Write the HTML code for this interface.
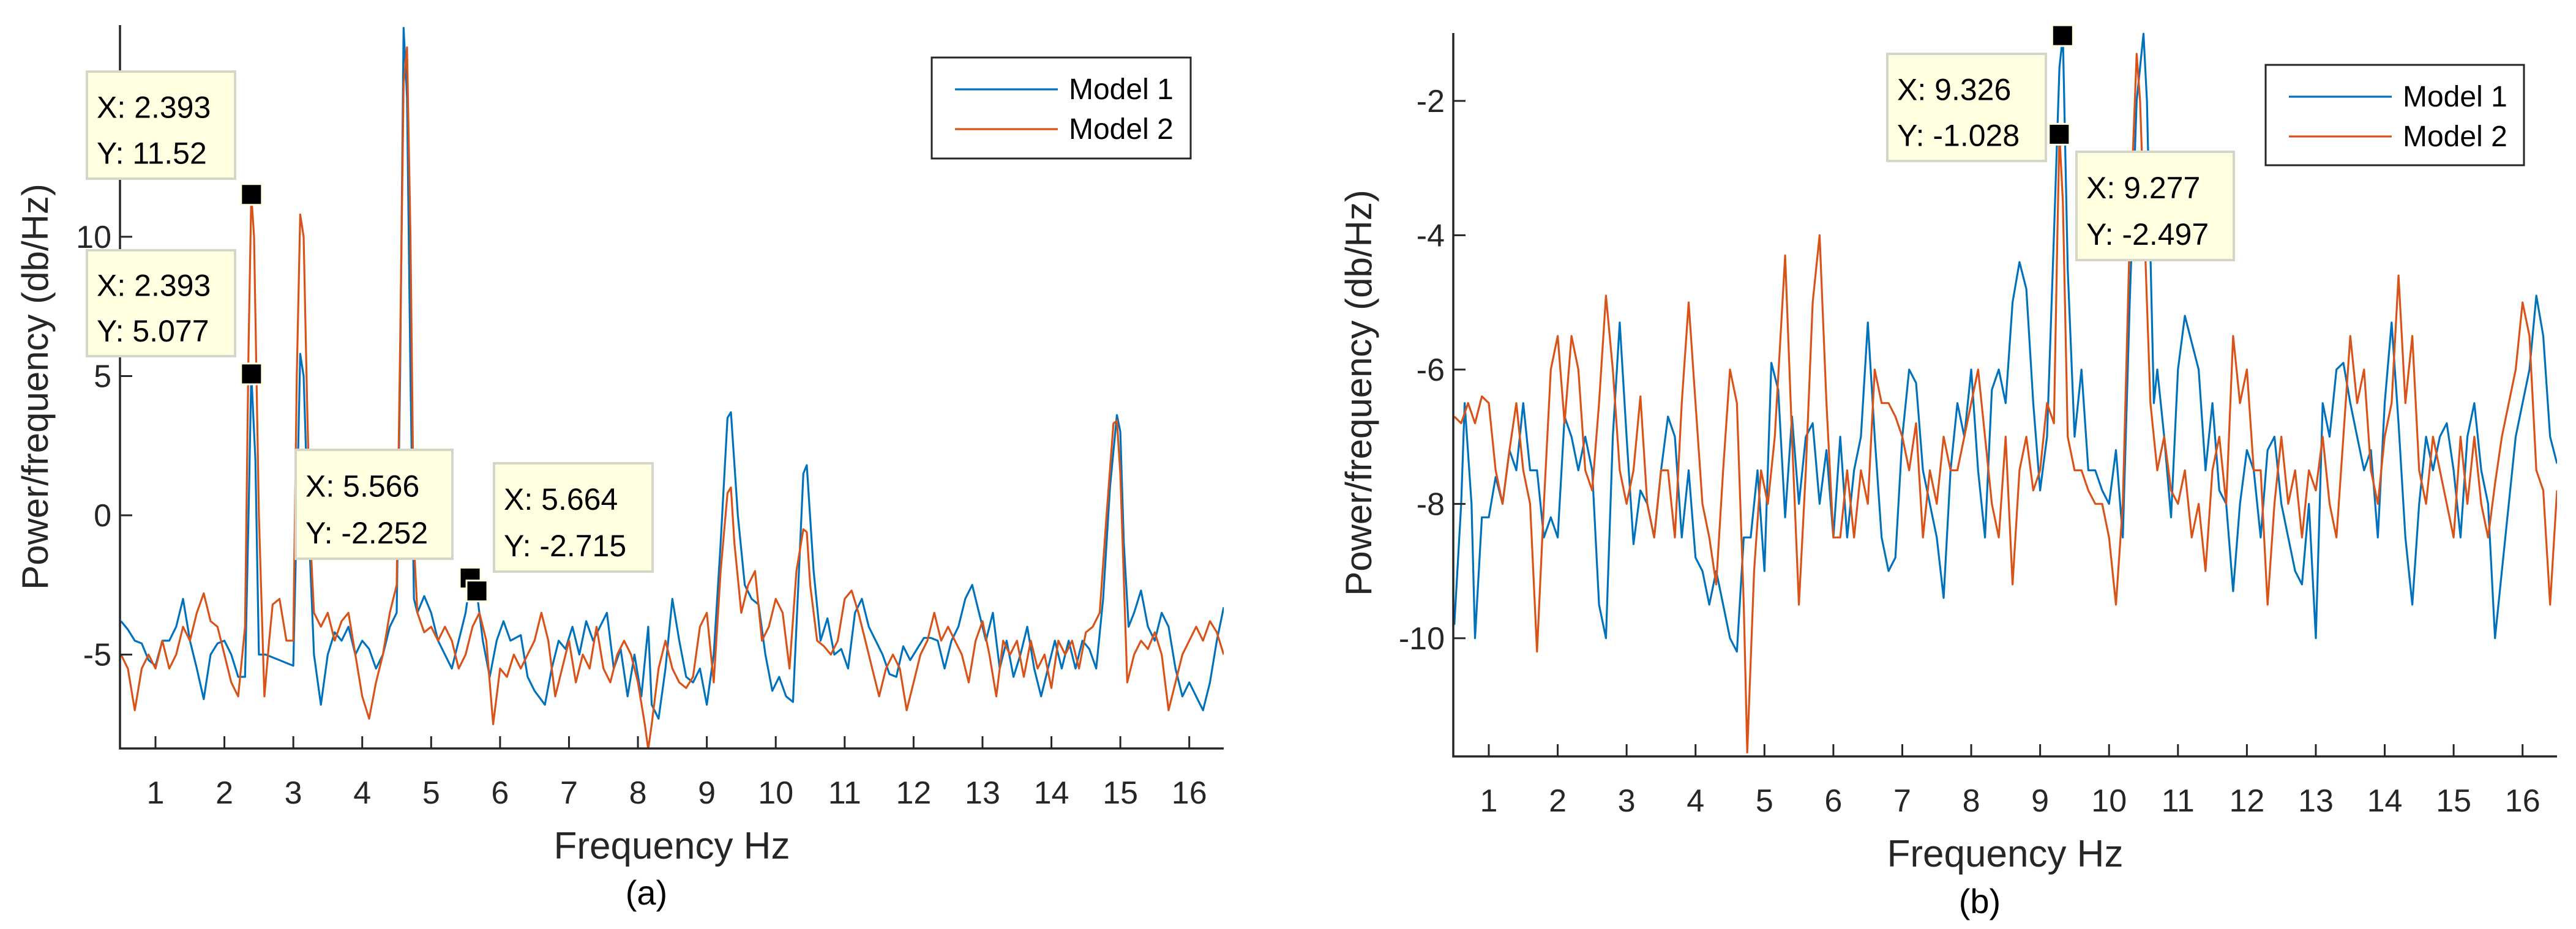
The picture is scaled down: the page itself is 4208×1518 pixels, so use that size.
<!DOCTYPE html>
<html><head><meta charset="utf-8"><style>
html,body{margin:0;padding:0;background:#fff;}
svg{display:block;font-family:"Liberation Sans",sans-serif;}
</style></head><body>
<svg id="root" width="4208" height="1518" viewBox="0 0 4208 1518"></svg>
<script>
// ---------- DATA ----------
const xTicks = [1,2,3,4,5,6,7,8,9,10,11,12,13,14,15,16];
const yTicksA = [-5,0,5,10,15];
const yTickLabelsA = ["-5","0","5","10","1"];
const yTicksB = [-10,-8,-6,-4,-2];
const yTickLabelsB = ["-10","-8","-6","-4","-2"];
const seriesNames = ["Model 1","Model 2"];

const fA1 = [0.5,0.6,0.7,0.8,0.9,1.0,1.1,1.2,1.3,1.4,1.5,1.6,1.7,1.8,1.9,2.0,2.1,2.2,2.3,2.35,2.39,2.45,2.5,2.6,2.7,2.8,2.9,3.0,3.05,3.1,3.15,3.2,3.25,3.3,3.4,3.5,3.6,3.7,3.8,3.9,4.0,4.1,4.2,4.3,4.4,4.5,4.55,4.6,4.65,4.7,4.75,4.8,4.9,5.0,5.1,5.2,5.3,5.4,5.5,5.57,5.66,5.75,5.85,5.95,6.05,6.15,6.3,6.4,6.5,6.65,6.75,6.85,6.95,7.05,7.15,7.25,7.35,7.45,7.55,7.65,7.75,7.85,7.95,8.05,8.15,8.2,8.3,8.4,8.5,8.6,8.7,8.8,8.9,9.0,9.1,9.2,9.3,9.35,9.45,9.55,9.65,9.75,9.85,9.95,10.05,10.15,10.25,10.3,10.4,10.45,10.55,10.65,10.75,10.85,10.95,11.05,11.15,11.25,11.35,11.45,11.55,11.65,11.75,11.85,11.95,12.05,12.15,12.25,12.35,12.45,12.55,12.65,12.75,12.85,12.95,13.05,13.15,13.25,13.35,13.45,13.55,13.65,13.75,13.85,13.95,14.05,14.15,14.25,14.35,14.45,14.55,14.65,14.75,14.85,14.95,15.0,15.05,15.12,15.2,15.3,15.4,15.5,15.6,15.7,15.8,15.9,16.0,16.1,16.2,16.3,16.4,16.5];
const vA1 = [-3.8,-4.1,-4.5,-4.6,-5.2,-5.4,-4.5,-4.5,-4.0,-3.0,-4.5,-5.5,-6.6,-5.0,-4.6,-4.5,-5.0,-5.8,-5.8,0,5.08,2,-5.0,-5.0,-5.1,-5.2,-5.3,-5.4,0,5.8,5.0,1,-2,-5,-6.8,-5,-4.2,-4.5,-4.0,-5.0,-4.5,-4.8,-5.5,-5.0,-4.0,-3.5,5,17.5,15,5,-3,-3.5,-2.9,-3.5,-4.5,-5.0,-5.5,-4.5,-3.5,-2.25,-2.7,-4.5,-5.8,-4.5,-3.8,-4.5,-4.3,-5.8,-6.3,-6.8,-5.5,-4.5,-4.8,-4.0,-5.0,-3.8,-4.5,-4.0,-3.5,-5.5,-4.8,-6.5,-5.0,-6.5,-4.0,-6.8,-7.3,-5.5,-3.0,-4.5,-5.8,-6.0,-5.5,-6.8,-5,-1,3.5,3.7,0,-2.5,-3.0,-3.2,-5.0,-6.3,-5.8,-6.5,-6.7,-4,1.5,1.8,-2,-4.5,-3.7,-5.0,-4.8,-5.5,-3.5,-3.0,-4.0,-4.5,-5.0,-5.7,-5.8,-4.7,-5.2,-4.8,-4.4,-4.4,-4.5,-5.5,-4.5,-4.0,-3.0,-2.5,-3.5,-4.5,-3.5,-5.5,-4.5,-5.8,-5.0,-4.0,-5.5,-6.5,-5.5,-4.5,-5.5,-4.5,-5.5,-4.5,-4.8,-5.5,-3,1,3.6,3.0,-1,-4.0,-3.5,-2.7,-4.0,-4.5,-3.5,-4.0,-5.5,-6.5,-6.0,-6.5,-7.0,-6.0,-4.5,-3.3];

const fA2 = [0.5,0.6,0.7,0.8,0.9,1.0,1.1,1.2,1.3,1.4,1.5,1.6,1.7,1.8,1.9,2.0,2.1,2.2,2.3,2.35,2.39,2.43,2.5,2.58,2.65,2.7,2.8,2.9,3.0,3.05,3.1,3.15,3.2,3.25,3.3,3.4,3.5,3.6,3.7,3.8,3.9,4.0,4.1,4.2,4.3,4.4,4.5,4.55,4.6,4.65,4.7,4.75,4.8,4.9,5.0,5.1,5.2,5.3,5.4,5.5,5.6,5.7,5.8,5.9,6.0,6.1,6.2,6.3,6.4,6.5,6.6,6.7,6.8,6.9,7.0,7.1,7.2,7.3,7.4,7.5,7.6,7.7,7.8,7.9,8.0,8.1,8.15,8.2,8.3,8.4,8.5,8.6,8.7,8.8,8.9,9.0,9.1,9.2,9.3,9.35,9.4,9.5,9.6,9.7,9.8,9.9,10.0,10.1,10.2,10.3,10.4,10.45,10.5,10.6,10.7,10.8,10.9,11.0,11.1,11.2,11.3,11.4,11.5,11.6,11.7,11.8,11.9,12.0,12.1,12.2,12.3,12.4,12.5,12.6,12.7,12.8,12.9,13.0,13.1,13.2,13.3,13.4,13.5,13.6,13.7,13.8,13.9,14.0,14.1,14.2,14.3,14.4,14.5,14.6,14.7,14.8,14.9,14.95,15.0,15.1,15.2,15.3,15.4,15.5,15.6,15.7,15.8,15.9,16.0,16.1,16.2,16.3,16.4,16.5];
const vA2 = [-5.0,-5.5,-7.0,-5.5,-5.0,-5.5,-4.5,-5.5,-5.0,-4.0,-4.5,-3.5,-2.8,-3.8,-4.0,-5.0,-6.0,-6.5,-4,6,11.52,10,0,-6.5,-4.5,-3.2,-3.0,-4.5,-4.5,5,10.8,10,4,-1,-3.5,-4.0,-3.5,-4.5,-3.8,-3.5,-5.0,-6.5,-7.3,-6.0,-5.0,-3.5,-2.5,6,15.5,16.8,10,-1,-3.5,-4.2,-4.0,-4.5,-4.0,-4.5,-5.5,-5.0,-4.0,-3.5,-4.5,-7.5,-5.5,-5.8,-5.0,-5.5,-5.0,-4.5,-3.5,-4.5,-6.5,-5.5,-4.5,-6.0,-5.0,-5.5,-4.0,-5.5,-6.0,-5.0,-4.5,-5.0,-6.0,-7.5,-8.4,-7.5,-5.5,-4.5,-5.5,-6.0,-6.2,-5.8,-4.0,-3.5,-6.0,-2,0.8,1.0,-1,-3.5,-2.5,-2.0,-4.5,-4.0,-3.0,-3.5,-5.5,-2,-0.5,-0.6,-2.5,-4.5,-4.7,-5.0,-4.5,-3.0,-2.7,-3.5,-4.5,-5.5,-6.5,-5.5,-5.0,-5.5,-7.0,-6.0,-5.0,-4.5,-3.5,-4.5,-4.0,-4.5,-5.0,-6.0,-4.5,-3.8,-5.0,-6.5,-4.5,-5.0,-4.5,-5.8,-4.5,-5.5,-5.0,-6.2,-4.5,-5.0,-4.5,-5.5,-4.2,-4.0,-3.5,0,3.3,3.4,1.5,-6.0,-5.0,-4.5,-4.8,-4.2,-5.0,-7.0,-6.0,-5.0,-4.5,-4.0,-4.5,-3.8,-4.2,-5.0];

const fB1 = [0.5,0.6,0.65,0.75,0.8,0.9,1.0,1.1,1.2,1.3,1.4,1.5,1.6,1.7,1.8,1.9,2.0,2.1,2.2,2.3,2.4,2.5,2.6,2.7,2.8,2.9,3.0,3.1,3.2,3.3,3.4,3.5,3.6,3.7,3.8,3.9,4.0,4.1,4.2,4.3,4.4,4.5,4.6,4.7,4.8,4.9,5.0,5.1,5.2,5.3,5.4,5.5,5.6,5.7,5.8,5.9,6.0,6.1,6.2,6.3,6.4,6.5,6.6,6.7,6.8,6.9,7.0,7.1,7.2,7.3,7.4,7.5,7.6,7.7,7.8,7.9,8.0,8.1,8.2,8.3,8.4,8.5,8.6,8.7,8.8,8.9,9.0,9.1,9.2,9.28,9.33,9.4,9.5,9.6,9.7,9.8,9.9,10.0,10.1,10.2,10.3,10.4,10.5,10.55,10.65,10.7,10.8,10.9,11.0,11.1,11.2,11.3,11.4,11.5,11.6,11.7,11.8,11.9,12.0,12.1,12.2,12.3,12.4,12.5,12.6,12.7,12.8,12.9,13.0,13.1,13.2,13.3,13.4,13.5,13.6,13.7,13.8,13.9,14.0,14.1,14.2,14.3,14.4,14.5,14.6,14.7,14.8,14.9,15.0,15.1,15.2,15.3,15.4,15.5,15.6,15.7,15.8,15.9,16.0,16.1,16.2,16.3,16.4,16.5];
const vB1 = [-9.8,-8,-6.5,-8,-10,-8.2,-8.2,-7.6,-8.0,-7.2,-7.5,-6.5,-7.5,-7.5,-8.5,-8.2,-8.5,-6.7,-7.0,-7.5,-7.0,-7.5,-9.5,-10.0,-7,-5.3,-7.0,-8.6,-7.8,-8.0,-8.5,-7.5,-6.7,-7.0,-8.5,-7.5,-8.8,-9.0,-9.5,-9.0,-9.5,-10.0,-10.2,-8.5,-8.5,-7.5,-9.0,-5.9,-6.3,-8.2,-6.7,-8.0,-7.0,-6.8,-8.0,-7.2,-8.5,-7.0,-8.5,-7.5,-7.0,-5.3,-7.0,-8.5,-9.0,-8.8,-7,-6.0,-6.2,-7.5,-8.0,-8.5,-9.4,-7.5,-6.5,-7.0,-6.0,-7.5,-8.5,-6.3,-6.0,-6.5,-5.0,-4.4,-4.8,-6.5,-7.8,-7.0,-4,-1.5,-1.03,-4.5,-7.0,-6.0,-7.5,-7.5,-7.8,-8.0,-7.2,-8.5,-5,-2,-1.0,-2,-6.5,-6.0,-7.0,-8.2,-6.0,-5.2,-5.6,-6.0,-7.5,-6.5,-7.8,-8.0,-9.3,-8.0,-7.2,-7.5,-8.5,-7.2,-7.0,-8.0,-8.5,-9.0,-9.2,-8.0,-10.0,-6.5,-7.0,-6.0,-5.9,-6.5,-7.0,-7.5,-7.2,-8.5,-6.5,-5.3,-6.8,-8.5,-9.5,-8.0,-7.0,-7.5,-7.0,-6.8,-7.5,-8.5,-7.0,-6.5,-7.5,-8.0,-10.0,-9.0,-8.0,-7.0,-6.5,-6.0,-4.9,-5.5,-7.0,-7.4];

const fB2 = [0.5,0.6,0.7,0.8,0.9,1.0,1.1,1.2,1.3,1.4,1.5,1.6,1.7,1.8,1.9,2.0,2.1,2.2,2.3,2.4,2.5,2.6,2.7,2.8,2.9,3.0,3.1,3.2,3.3,3.4,3.5,3.6,3.7,3.8,3.9,4.0,4.1,4.2,4.3,4.4,4.5,4.6,4.7,4.75,4.85,4.95,5.05,5.15,5.25,5.3,5.4,5.5,5.6,5.7,5.8,5.9,6.0,6.1,6.2,6.3,6.4,6.5,6.6,6.7,6.8,6.9,7.0,7.1,7.2,7.3,7.4,7.5,7.6,7.7,7.8,7.9,8.0,8.1,8.2,8.3,8.4,8.5,8.6,8.7,8.8,8.9,9.0,9.1,9.2,9.25,9.28,9.33,9.4,9.5,9.6,9.7,9.8,9.9,10.0,10.1,10.2,10.3,10.4,10.45,10.55,10.6,10.7,10.8,10.9,11.0,11.1,11.2,11.3,11.4,11.5,11.6,11.7,11.8,11.9,12.0,12.1,12.2,12.3,12.4,12.5,12.6,12.7,12.8,12.9,13.0,13.1,13.2,13.3,13.4,13.5,13.6,13.7,13.8,13.9,14.0,14.1,14.2,14.3,14.4,14.5,14.6,14.7,14.8,14.9,15.0,15.1,15.2,15.3,15.4,15.5,15.6,15.7,15.8,15.9,16.0,16.1,16.2,16.3,16.4,16.5];
const vB2 = [-6.7,-6.8,-6.5,-6.8,-6.4,-6.5,-7.5,-8.0,-7.2,-6.5,-7.5,-8.0,-10.2,-8.0,-6.0,-5.5,-6.8,-5.5,-6.0,-7.5,-7.8,-6.5,-4.9,-6.0,-7.5,-8.0,-7.5,-6.4,-8.0,-8.5,-7.5,-7.5,-8.5,-6.5,-5.0,-6.5,-8.0,-8.5,-9.2,-7.5,-6.0,-6.5,-9.5,-11.7,-9,-7.5,-8.0,-7.0,-5.2,-4.3,-7.0,-9.5,-7.5,-5.0,-4.0,-6.5,-8.5,-8.5,-7.5,-8.5,-7.5,-8.0,-6.0,-6.5,-6.5,-6.7,-7.0,-7.5,-6.8,-8.5,-7.5,-8.0,-7.0,-7.5,-7.5,-7.0,-6.5,-6.0,-7.0,-8.0,-8.5,-7.0,-9.2,-7.5,-7.0,-7.8,-7.5,-6.5,-6.8,-4,-2.5,-3.5,-7.0,-7.5,-7.5,-7.8,-8.0,-8.0,-8.5,-9.5,-8.0,-4,-1.3,-2,-5,-6.5,-7.5,-7.0,-7.8,-8.0,-7.5,-8.5,-8.0,-9.0,-7.5,-7.0,-8.0,-5.5,-6.5,-6.0,-7.5,-7.5,-9.5,-8.0,-7.0,-8.0,-7.5,-8.5,-7.5,-7.8,-7.0,-8.0,-8.5,-7.0,-5.5,-6.5,-6.0,-7.5,-8.0,-7.0,-6.5,-4.6,-6.5,-5.5,-7.5,-8.0,-7.0,-7.5,-8.0,-8.5,-7.0,-8.0,-7.0,-8.0,-8.5,-7.7,-7.0,-6.5,-6.0,-5.0,-5.5,-7.5,-7.8,-9.5,-7.8];

const tipXA = [2.393,2.393,5.566,5.664];
const tipYA = [11.52,5.077,-2.252,-2.715];
const tipXB = [9.326,9.277];
const tipYB = [-1.028,-2.497];

// ---------- DRAWING ----------
const NS = "http://www.w3.org/2000/svg";
const root = document.getElementById('root');
function mk(tag, parent, attrs){
  const e = document.createElementNS(NS, tag);
  for (const k in attrs) e.setAttribute(k, attrs[k]);
  parent.appendChild(e);
  return e;
}
const BLUE = "#0072BD", ORANGE = "#D95319";

function chart(cfg){
  const g = mk('g', root, {});
  
  
  const L=cfg.left,R=cfg.right,T=cfg.top,B=cfg.bottom;
  const sx = v => L + (v - cfg.xmin)/(cfg.xmax-cfg.xmin)*(R-L);
  const sy = v => B - (v - cfg.ymin)/(cfg.ymax-cfg.ymin)*(B-T);
  const clipId = cfg.name + '-clip';
  const defs = mk('defs', g, {});
  const cp = mk('clipPath', defs, {id: clipId});
  mk('rect', cp, {x:L, y:T-20, width:R-L, height:B-T+20});

  // series
  const sets = [[cfg.f1,cfg.v1,BLUE,'model-1-line'],[cfg.f2,cfg.v2,ORANGE,'model-2-line']];
  sets.forEach(s=>{
    const pts = s[0].map((f,i)=> sx(f).toFixed(1)+','+sy(s[1][i]).toFixed(1)).join(' ');
    const pl = mk('polyline', g, {points:pts, fill:'none', stroke:s[2], 'stroke-width':3.2, 'stroke-linejoin':'round', 'clip-path':'url(#'+clipId+')'});
    
    
  });

  // axes
  const ax = mk('path', g, {d:`M${L},${T} L${L},${B} L${R},${B}`, fill:'none', stroke:'#262626', 'stroke-width':3.5});
  
  
  xTicks.forEach(t=>{
    const x = sx(t);
    mk('line', g, {x1:x, y1:B, x2:x, y2:B-20, stroke:'#262626', 'stroke-width':3});
    const tx = mk('text', g, {x:x, y:B+90, 'font-size':52, fill:'#262626', 'text-anchor':'middle'});
    tx.textContent = t;
    
    
  });
  cfg.yt.forEach((t,i)=>{
    const y = sy(t);
    mk('line', g, {x1:L, y1:y, x2:L+20, y2:y, stroke:'#262626', 'stroke-width':3});
    const tx = mk('text', g, {x:L-14, y:y+18, 'font-size':52, fill:'#262626', 'text-anchor':'end'});
    tx.textContent = cfg.ytl[i];
    
    
  });
  const xt = mk('text', g, {x:(L+R)/2, y:B+180, 'font-size':62, fill:'#262626', 'text-anchor':'middle'});
  xt.textContent = 'Frequency Hz';
  
  
  const yt = mk('text', g, {x:0, y:0, 'font-size':60, fill:'#262626', 'text-anchor':'middle', transform:`translate(${cfg.ytx},${cfg.yty}) rotate(-90)`});
  yt.textContent = 'Power/frequency (db/Hz)';
  
  
  const cap = mk('text', g, {x:cfg.capx, y:cfg.capy, 'font-size':56, fill:'#000', 'text-anchor':'middle', 'font-family':'"Liberation Sans", sans-serif'});
  cap.textContent = cfg.caption;
  
  

  // legend
  const lg = mk('g', g, {});
  
  
  const [lx,ly,lw,lh] = cfg.legend;
  mk('rect', lg, {x:lx, y:ly, width:lw, height:lh, fill:'#fff', stroke:'#262626', 'stroke-width':3});
  [BLUE,ORANGE].forEach((c,i)=>{
    const yy = ly + 52 + i*65;
    const le = mk('g', lg, {});
    
    
    mk('line', le, {x1:lx+38, y1:yy, x2:lx+206, y2:yy, stroke:c, 'stroke-width':3.2});
    const t = mk('text', le, {x:lx+224, y:yy+16, 'font-size':48, fill:'#000'});
    t.textContent = seriesNames[i];
  });

  // datatips
  cfg.tips.forEach((b,i)=>{
    const tg = mk('g', g, {});
    
    
    mk('rect', tg, {x:b[0], y:b[1], width:b[2], height:b[3], fill:'#FFFFE1', stroke:'#d6d6c8', 'stroke-width':4});
    const t1 = mk('text', tg, {x:b[0]+16, y:b[1]+b[3]*0.43, 'font-size':50, fill:'#000'});
    t1.textContent = 'X: ' + cfg.tx[i];
    const t2 = mk('text', tg, {x:b[0]+16, y:b[1]+b[3]*0.86, 'font-size':50, fill:'#000'});
    t2.textContent = 'Y: ' + cfg.ty[i];
    const mx = sx(cfg.tx[i]), my = sy(cfg.ty[i]);
    const m = mk('rect', g, {x:mx-17, y:my-17, width:34, height:34, fill:'#000', stroke:'#FFFFE1', 'stroke-width':3});
    
    
  });
}

chart({name:'chart-a', left:196, right:1999, top:41, bottom:1223, xmin:0.485, xmax:16.5, ymin:-8.37, ymax:17.6,
  f1:fA1, v1:vA1, f2:fA2, v2:vA2, yt:yTicksA, ytl:yTickLabelsA,
  ytx:78, yty:632, capx:1056, capy:1478, caption:'(a)',
  legend:[1522,94,423,165],
  tips:[[142,117,242,175],[142,409,242,173],[483,735,256,178],[807,757,259,177]],
  tx:tipXA, ty:tipYA});

chart({name:'chart-b', left:2374, right:4177, top:54, bottom:1236, xmin:0.485, xmax:16.5, ymin:-11.76, ymax:-0.99,
  f1:fB1, v1:vB1, f2:fB2, v2:vB2, yt:yTicksB, ytl:yTickLabelsB,
  ytx:2240, yty:642, capx:3234, capy:1492, caption:'(b)',
  legend:[3701,106,422,164],
  tips:[[3083,88,259,175],[3392,248,257,177]],
  tx:tipXB, ty:tipYB});
</script>
</body></html>
